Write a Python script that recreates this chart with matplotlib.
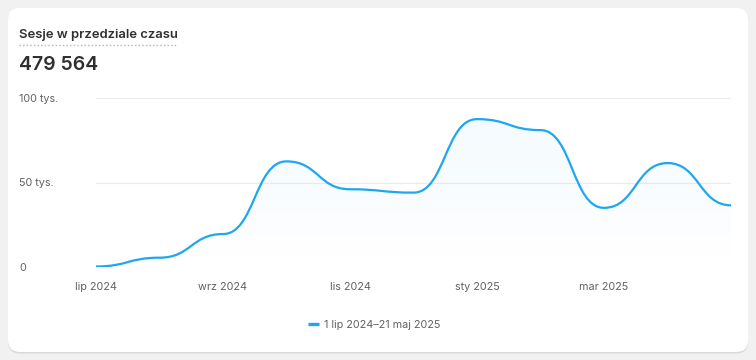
import numpy as np
import matplotlib
matplotlib.use('Agg')
import matplotlib.pyplot as plt
from matplotlib.path import Path
from matplotlib.patches import PathPatch, FancyBboxPatch
from matplotlib.lines import Line2D

plt.rcParams['font.family'] = ['Inter', 'DejaVu Sans']

# monthly sessions, 1 Jul 2024 - 21 May 2025
months = ['lip 2024', 'sie 2024', 'wrz 2024', 'paź 2024', 'lis 2024', 'gru 2024',
          'sty 2025', 'lut 2025', 'mar 2025', 'kwi 2025', 'maj 2025']
sessions = [300, 5500, 19500, 62500, 46000, 44000, 87500, 81000, 35000, 61500, 36500]
yticks = [0, 50000, 100000]
ytick_labels = ['0', '50 tys.', '100 tys.']
title = 'Sesje w przedziale czasu'
total = '479 564'
legend_label = '1 lip 2024–21 maj 2025'

W, H = 756, 360
fig = plt.figure(figsize=(W / 100, H / 100), dpi=100)
fig.patch.set_facecolor('#f1f1f1')

# card with a soft shadow
shadow = FancyBboxPatch((0.08, 0.065), 7.40, 3.44, boxstyle='round,pad=0,rounding_size=0.12',
                        transform=fig.dpi_scale_trans, facecolor='#d9d9d9', edgecolor='none',
                        zorder=-3)
card = FancyBboxPatch((0.08, 0.08), 7.40, 3.44, boxstyle='round,pad=0,rounding_size=0.12',
                      transform=fig.dpi_scale_trans, facecolor='white', edgecolor='none',
                      zorder=-2)
fig.add_artist(shadow)
fig.add_artist(card)

ax = fig.add_axes([96 / W, 1 - 267 / H, (731 - 96) / W, (267 - 98) / H])
ax.set_facecolor('none')

x = np.arange(len(sessions))
line_color = '#1ea7ef'

# bump-x style curve: horizontal tangents at every point
verts = [(x[0], sessions[0])]
codes = [Path.MOVETO]
for i in range(1, len(x)):
    xm = (x[i - 1] + x[i]) / 2
    verts += [(xm, sessions[i - 1]), (xm, sessions[i]), (x[i], sessions[i])]
    codes += [Path.CURVE4] * 3

curve = Path(verts, codes)
ax.add_patch(PathPatch(curve, facecolor='none', edgecolor=line_color, lw=1.6,
                       capstyle='round', zorder=3))

# faint gradient fill under the curve
fill_verts = verts + [(x[-1], 0), (x[0], 0), (x[0], sessions[0])]
fill_codes = codes + [Path.LINETO, Path.LINETO, Path.CLOSEPOLY]
fill_patch = PathPatch(Path(fill_verts, fill_codes), facecolor='none', edgecolor='none')
ax.add_patch(fill_patch)
grad = np.zeros((256, 1, 4))
grad[..., 0] = 0.12
grad[..., 1] = 0.65
grad[..., 2] = 0.94
grad[:, 0, 3] = np.linspace(0.06, 0.0, 256)
im = ax.imshow(grad, extent=[x[0], x[-1], 0, 100000], origin='upper', aspect='auto',
               zorder=2, interpolation='bilinear')
im.set_clip_path(fill_patch)

ax.set_xlim(x[0], x[-1])
ax.set_ylim(0, 100000)

for yv in yticks:
    ax.axhline(yv, color='#ebebeb', lw=0.8, zorder=1)

ax.set_yticks(yticks)
ax.set_yticklabels(ytick_labels)
ax.set_xticks(x[:9:2])
ax.set_xticklabels(months[:9:2])
ax.tick_params(axis='y', length=0, pad=(96 - 19) * 0.72, labelsize=7.8, colors='#616161')
ax.tick_params(axis='x', length=0, pad=11, labelsize=7.8, colors='#616161')
for lbl in ax.get_yticklabels():
    lbl.set_horizontalalignment('left')
for s in ax.spines.values():
    s.set_visible(False)

# header
fig.text(19 / W, 1 - 35 / H, title, fontsize=9.4, fontweight='semibold', color='#303030',
         va='center', ha='left')
fig.add_artist(Line2D([19 / W, 177 / W], [1 - 44.5 / H, 1 - 44.5 / H], color='#b5b5b5',
                      lw=1.0, linestyle=(0, (1, 1.6)), transform=fig.transFigure))
fig.text(19 / W, 1 - 65.5 / H, total, fontsize=14, fontweight='semibold', color='#303030',
         va='center', ha='left')

handle = Line2D([], [], color=line_color, lw=2.4, solid_capstyle='butt')
fig.legend([handle], [legend_label], loc='center', bbox_to_anchor=(374 / W, 1 - 325 / H),
           frameon=False, handlelength=1.0, handletextpad=0.5, fontsize=7.8,
           labelcolor='#616161')

fig.savefig('out.png', dpi=100, facecolor=fig.get_facecolor())
